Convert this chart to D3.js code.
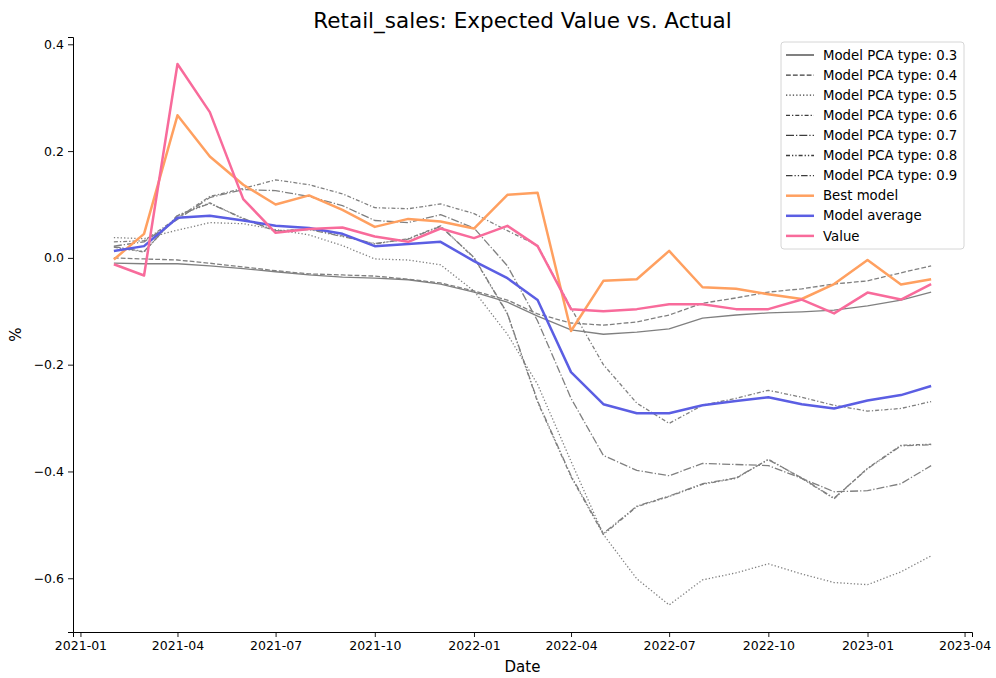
<!DOCTYPE html>
<html>
<head>
<meta charset="utf-8">
<script src="https://cdn.jsdelivr.net/npm/d3@7"></script>
<style>
  body { margin: 0; background: #fff; }
  svg text { font-family: "DejaVu Sans", sans-serif; fill: #000; }
</style>
</head>
<body>
<div id="chart"></div>
<script>
const months = ["2021-02","2021-03","2021-04","2021-05","2021-06","2021-07","2021-08","2021-09","2021-10","2021-11","2021-12",
  "2022-01","2022-02","2022-03","2022-04","2022-05","2022-06","2022-07","2022-08","2022-09","2022-10","2022-11","2022-12",
  "2023-01","2023-02","2023-03"];

const pca03 = [-0.010,-0.011,-0.011,-0.015,-0.020,-0.026,-0.032,-0.036,-0.038,-0.041,-0.049,-0.064,-0.083,-0.109,-0.135,-0.143,-0.139,-0.133,-0.113,-0.107,-0.103,-0.101,-0.098,-0.090,-0.079,-0.064];
const pca04 = [0.000,-0.002,-0.004,-0.010,-0.017,-0.024,-0.030,-0.032,-0.034,-0.040,-0.047,-0.062,-0.079,-0.105,-0.122,-0.126,-0.120,-0.107,-0.085,-0.075,-0.064,-0.058,-0.049,-0.043,-0.028,-0.015];
const pca05 = [0.038,0.036,0.052,0.066,0.064,0.053,0.043,0.023,-0.002,-0.004,-0.013,-0.062,-0.143,-0.237,-0.381,-0.518,-0.601,-0.650,-0.603,-0.590,-0.573,-0.592,-0.608,-0.612,-0.588,-0.558];
const pca06 = [0.030,0.032,0.075,0.115,0.130,0.146,0.137,0.120,0.094,0.092,0.101,0.083,0.051,0.023,-0.094,-0.200,-0.272,-0.310,-0.276,-0.263,-0.248,-0.261,-0.276,-0.287,-0.282,-0.269];
const pca07 = [0.022,0.030,0.072,0.113,0.128,0.126,0.115,0.098,0.070,0.066,0.081,0.056,-0.015,-0.118,-0.263,-0.370,-0.398,-0.408,-0.385,-0.387,-0.389,-0.413,-0.438,-0.436,-0.423,-0.389];
const pca08 = [0.020,0.011,0.080,0.103,0.073,0.050,0.054,0.041,0.026,0.036,0.060,0.000,-0.105,-0.270,-0.410,-0.518,-0.466,-0.447,-0.424,-0.413,-0.377,-0.413,-0.451,-0.394,-0.351,-0.349];
const pca09 = [0.021,0.012,0.079,0.102,0.074,0.051,0.053,0.040,0.027,0.035,0.059,0.001,-0.104,-0.268,-0.408,-0.516,-0.465,-0.446,-0.423,-0.412,-0.378,-0.412,-0.450,-0.395,-0.352,-0.350];
const bestModel = [-0.003,0.045,0.267,0.190,0.137,0.100,0.117,0.090,0.058,0.073,0.068,0.055,0.118,0.122,-0.137,-0.043,-0.040,0.013,-0.055,-0.058,-0.068,-0.077,-0.049,-0.004,-0.050,-0.040];
const modelAverage = [0.013,0.022,0.075,0.079,0.070,0.060,0.056,0.045,0.022,0.026,0.030,-0.006,-0.038,-0.079,-0.214,-0.274,-0.291,-0.291,-0.276,-0.268,-0.261,-0.274,-0.282,-0.267,-0.257,-0.240];
const actual = [-0.012,-0.033,0.363,0.273,0.110,0.047,0.054,0.057,0.040,0.030,0.055,0.037,0.060,0.022,-0.096,-0.100,-0.096,-0.087,-0.087,-0.096,-0.096,-0.078,-0.104,-0.065,-0.078,-0.049];

const yTicks = [-0.6, -0.4, -0.2, 0.0, 0.2, 0.4];

const series = [
  { name: "Model PCA type: 0.3", values: pca03, color: "#808080", key: "#3c3c3c", width: 1.3, dash: null },
  { name: "Model PCA type: 0.4", values: pca04, color: "#808080", key: "#3c3c3c", width: 1.3, dash: "4.8,2.1" },
  { name: "Model PCA type: 0.5", values: pca05, color: "#808080", key: "#3c3c3c", width: 1.3, dash: "1.3,2.1" },
  { name: "Model PCA type: 0.6", values: pca06, color: "#808080", key: "#3c3c3c", width: 1.3, dash: "4,2,1.3,2" },
  { name: "Model PCA type: 0.7", values: pca07, color: "#808080", key: "#3c3c3c", width: 1.3, dash: "8,2,1.3,2" },
  { name: "Model PCA type: 0.8", values: pca08, color: "#808080", key: "#3c3c3c", width: 1.3, dash: "4,2,1.3,2,1.3,2" },
  { name: "Model PCA type: 0.9", values: pca09, color: "#808080", key: "#3c3c3c", width: 1.3, dash: "6.5,2,1.3,2,1.3,2" },
  { name: "Best model", values: bestModel, color: "#ffa060", key: "#ffa060", width: 2.5, dash: null },
  { name: "Model average", values: modelAverage, color: "#5b5ee3", key: "#5b5ee3", width: 2.5, dash: null },
  { name: "Value", values: actual, color: "#f86b9b", key: "#f86b9b", width: 2.5, dash: null }
];

const width = 996, height = 678;
const margin = { top: 37, right: 24, bottom: 46, left: 73 };

const parse = d3.timeParse("%Y-%m");
const dates = months.map(parse);

const svg = d3.select("#chart").append("svg")
  .attr("width", width)
  .attr("height", height);

const t0 = d3.min(dates), t1 = d3.max(dates);
const tPad = (t1 - t0) * 0.05;
const x = d3.scaleTime()
  .domain([new Date(+t0 - tPad), new Date(+t1 + tPad)])
  .range([margin.left, width - margin.right]);

const allVals = series.flatMap(s => s.values);
const yMin = d3.min(allVals), yMax = d3.max(allVals);
const yPad = (yMax - yMin) * 0.05;
const y = d3.scaleLinear()
  .domain([yMin - yPad, yMax + yPad])
  .range([height - margin.bottom, margin.top]);

// axes
const xAxis = svg.append("g")
  .attr("transform", `translate(0,${height - margin.bottom})`)
  .call(d3.axisBottom(x).ticks(d3.timeMonth.every(3)).tickFormat(d3.timeFormat("%Y-%m")).tickSizeOuter(0).tickSize(5).tickPadding(4));

const yAxis = svg.append("g")
  .attr("transform", `translate(${margin.left},0)`)
  .call(d3.axisLeft(y).tickValues(yTicks).tickFormat(d => d3.format(".1f")(d).replace("-", "\u2212")).tickSizeOuter(0).tickSize(5).tickPadding(4));

[xAxis, yAxis].forEach(a => {
  a.selectAll("text").style("font-size", "12.5px").style("font-family", "DejaVu Sans, sans-serif");
  a.selectAll("line").attr("stroke", "#000").attr("stroke-width", 0.9);
  a.select(".domain").attr("stroke", "#000").attr("stroke-width", 1);
});

// lines
const line = d3.line()
  .x((d, i) => x(dates[i]))
  .y(d => y(d));

svg.append("g").selectAll("path")
  .data(series)
  .join("path")
  .attr("fill", "none")
  .attr("stroke", d => d.color)
  .attr("stroke-width", d => d.width)
  .attr("stroke-dasharray", d => d.dash)
  .attr("stroke-linejoin", "round")
  .attr("d", d => line(d.values));

// title & labels
svg.append("text")
  .attr("x", (margin.left + width - margin.right) / 2)
  .attr("y", 28)
  .attr("text-anchor", "middle")
  .style("font-size", "21.5px")
  .text("Retail_sales: Expected Value vs. Actual");

svg.append("text")
  .attr("x", (margin.left + width - margin.right) / 2)
  .attr("y", 672)
  .attr("text-anchor", "middle")
  .style("font-size", "15px")
  .text("Date");

svg.append("text")
  .attr("transform", `translate(21,${(margin.top + height - margin.bottom) / 2}) rotate(-90)`)
  .attr("text-anchor", "middle")
  .style("font-size", "15px")
  .text("%");

// legend
const legend = svg.append("g").attr("transform", "translate(781,42)");
legend.append("rect")
  .attr("width", 183)
  .attr("height", 207)
  .attr("rx", 3)
  .attr("fill", "#fff")
  .attr("fill-opacity", 0.8)
  .attr("stroke", "#d6d6d6");

const items = legend.selectAll("g.item")
  .data(series)
  .join("g")
  .attr("class", "item")
  .attr("transform", (d, i) => `translate(0,${13 + i * 20.1})`);

items.append("line")
  .attr("x1", 5).attr("x2", 33)
  .attr("stroke", d => d.key)
  .attr("stroke-width", d => d.width)
  .attr("stroke-dasharray", d => d.dash);

items.append("text")
  .attr("x", 42)
  .attr("dy", "0.35em")
  .style("font-size", "13.3px")
  .text(d => d.name);
</script>
</body>
</html>
